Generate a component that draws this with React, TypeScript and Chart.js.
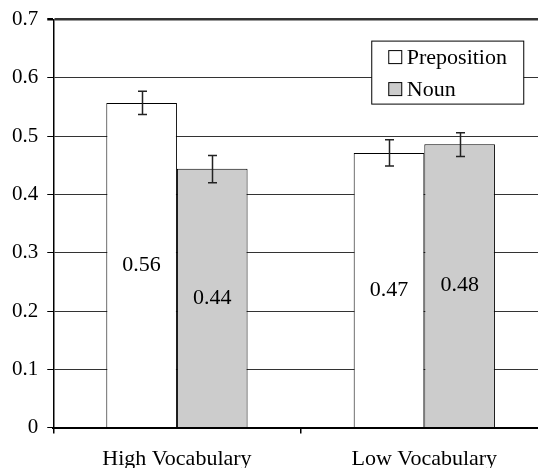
import React, { useEffect, useRef } from "react";
import { Chart, registerables } from "chart.js";

Chart.register(...registerables);

const categories = ["High Vocabulary", "Low Vocabulary"];
const seriesNames = ["Preposition", "Noun"];
const seriesColors = ["#ffffff", "#cccccc"];
const prepositionValues = [0.557, 0.471];
const nounValues = [0.444, 0.486];
const prepositionErrLow = [0.537, 0.449];
const prepositionErrHigh = [0.577, 0.494];
const nounErrLow = [0.42, 0.465];
const nounErrHigh = [0.467, 0.506];
const prepositionLabels = ["0.56", "0.47"];
const nounLabels = ["0.44", "0.48"];
const yTicks = [0, 0.1, 0.2, 0.3, 0.4, 0.5, 0.6, 0.7];

const FONT = "'Liberation Serif', 'Times New Roman', serif";

const errLow = [prepositionErrLow, nounErrLow];
const errHigh = [prepositionErrHigh, nounErrHigh];
const barLabels = [prepositionLabels, nounLabels];

const overlayPlugin = {
  id: "overlay",
  afterDatasetsDraw(chart: any) {
    const ctx = chart.ctx;
    const y = chart.scales.y;
    const area = chart.chartArea;
    ctx.save();
    // value labels
    ctx.fillStyle = "#000";
    ctx.font = `22px ${FONT}`;
    ctx.textAlign = "center";
    ctx.textBaseline = "middle";
    chart.data.datasets.forEach((ds: any, di: number) => {
      const meta = chart.getDatasetMeta(di);
      meta.data.forEach((bar: any, i: number) => {
        const cy = (bar.y + bar.base) / 2;
        ctx.fillText(barLabels[di][i], bar.x, cy);
      });
    });
    // error bars
    ctx.strokeStyle = "#222";
    ctx.lineWidth = 1.5;
    chart.data.datasets.forEach((ds: any, di: number) => {
      const meta = chart.getDatasetMeta(di);
      meta.data.forEach((bar: any, i: number) => {
        const x = Math.round(bar.x) + 0.5;
        const yl = y.getPixelForValue(errLow[di][i]);
        const yh = y.getPixelForValue(errHigh[di][i]);
        ctx.beginPath();
        ctx.moveTo(x, yl);
        ctx.lineTo(x, yh);
        ctx.moveTo(x - 4.5, yl);
        ctx.lineTo(x + 4.5, yl);
        ctx.moveTo(x - 4.5, yh);
        ctx.lineTo(x + 4.5, yh);
        ctx.stroke();
      });
    });
    // legend
    const lx = area.left + 318.5;
    const ly = area.top + 21.5;
    const lw = 152;
    const lh = 63;
    ctx.fillStyle = "#fff";
    ctx.fillRect(lx, ly, lw, lh);
    ctx.strokeStyle = "#000";
    ctx.lineWidth = 1;
    ctx.strokeRect(lx, ly, lw, lh);
    ctx.textAlign = "left";
    ctx.textBaseline = "middle";
    ctx.font = `22px ${FONT}`;
    seriesNames.forEach((name, k) => {
      const cy = ly + 16 + k * 32;
      ctx.fillStyle = seriesColors[k];
      ctx.fillRect(lx + 17, cy - 6.5, 13, 13);
      ctx.strokeStyle = "#000";
      ctx.strokeRect(lx + 17, cy - 6.5, 13, 13);
      ctx.fillStyle = "#000";
      ctx.fillText(name, lx + 35, cy + 1);
    });
    ctx.restore();
  },
};

export default function App() {
  const ref = useRef<HTMLCanvasElement>(null);
  useEffect(() => {
    if (!ref.current) return;
    const chart = new Chart(ref.current, {
      type: "bar",
      data: {
        labels: categories,
        datasets: [
          {
            label: seriesNames[0],
            data: prepositionValues,
            backgroundColor: seriesColors[0],
            borderColor: "#000",
            borderWidth: 1,
            barPercentage: 1,
            categoryPercentage: 0.571,
          },
          {
            label: seriesNames[1],
            data: nounValues,
            backgroundColor: seriesColors[1],
            borderColor: "#000",
            borderWidth: 1,
            barPercentage: 1,
            categoryPercentage: 0.571,
          },
        ],
      },
      options: {
        responsive: false,
        animation: false,
        devicePixelRatio: 1,
        layout: { padding: { left: 3, right: 12, top: 4, bottom: 0 } },
        plugins: { legend: { display: false }, tooltip: { enabled: false } },
        scales: {
          y: {
            min: 0,
            max: 0.7,
            afterBuildTicks: (s: any) => {
              s.ticks = yTicks.map((v) => ({ value: v }));
            },
            ticks: {
              color: "#000",
              font: { family: FONT, size: 21 },
              padding: 9,
              callback: (v: any) => (Number(v) === 0 ? "0" : Number(v).toFixed(1)),
            },
            grid: {
              color: "#333",
              lineWidth: (c: any) => (c.tick && Math.abs(c.tick.value - 0.7) < 1e-6 ? 2.5 : 1),
              tickLength: 6,
              tickColor: "#000",
            },
            border: { display: true, color: "#000", width: 1.5 },
          },
          x: {
            ticks: {
              color: "#000",
              font: { family: FONT, size: 22 },
              padding: 12,
            },
            grid: {
              offset: true,
              drawOnChartArea: false,
              tickLength: 6,
              tickColor: "#000",
              lineWidth: 1.5,
            },
            border: { display: true, color: "#000", width: 2 },
          },
        },
      },
      plugins: [overlayPlugin],
    });
    return () => chart.destroy();
  }, []);
  return (
    <div
      style={{
        position: "fixed",
        left: 0,
        top: 0,
        width: 538,
        height: 468,
        overflow: "hidden",
        background: "#fff",
      }}
    >
      <canvas
        ref={ref}
        width={560}
        height={486}
        style={{ display: "block", marginTop: -2 }}
      />
    </div>
  );
}
